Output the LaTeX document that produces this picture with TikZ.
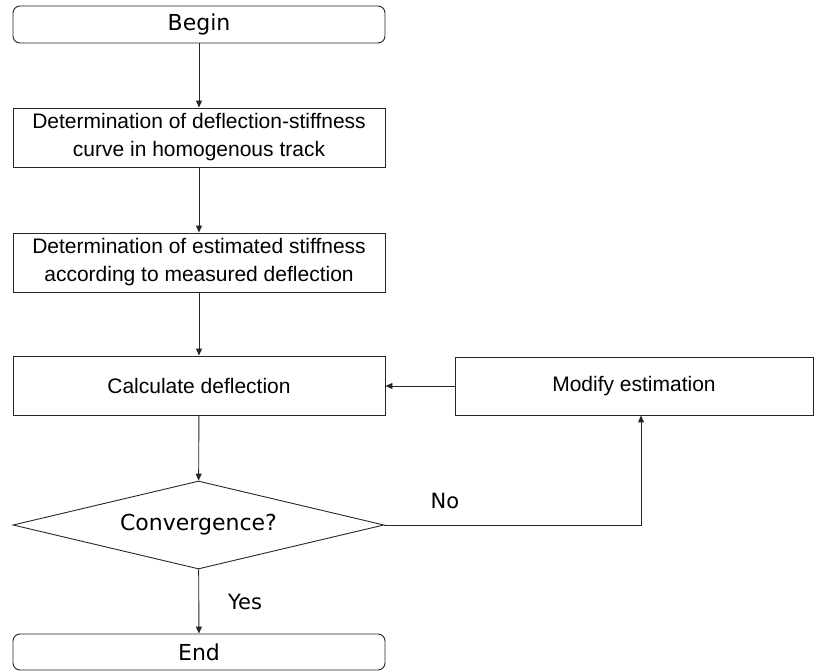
\documentclass[tikz,border=0pt]{standalone}
\usepackage{fontspec}
\setmainfont{Liberation Sans}
\newfontfamily\termfont{DejaVu Sans}
\usepackage{tikz}
\usetikzlibrary{positioning,shapes.geometric,arrows.meta}

\begin{document}
\begin{tikzpicture}[x=1pt, y=-1pt,
  box/.style={rectangle, draw=black!85, line width=0.9pt, minimum width=372pt, minimum height=59pt,
              align=center, font=\fontsize{21}{28}\selectfont, inner sep=0pt},
  term/.style={rectangle, draw=black!85, line width=0.9pt, rounded corners=7pt, minimum width=372pt,
               minimum height=37pt, font=\termfont\fontsize{22}{26}\selectfont, inner sep=0pt},
  decision/.style={diamond, draw=black!85, line width=0.9pt, aspect=4.2, minimum width=371pt,
                   minimum height=88pt, font=\termfont\fontsize{22}{26}\selectfont, inner sep=0pt},
  lbl/.style={font=\termfont\fontsize{21}{25}\selectfont},
  arrow/.style={-{Triangle[length=7pt,width=6pt]}, line width=0.9pt, draw=black!85},
]
\useasboundingbox (0,0) rectangle (815,671);

% Main column
\node[term] (begin) at (199, 24.5) {Begin};
\node[box] (curve) at (199, 137.5) {Determination of deflection-stiffness\\curve in homogenous track};
\node[box] (estim) at (199, 262.5) {Determination of estimated stiffness\\according to measured deflection};
\node[box] (calc) at (199, 385.5) {Calculate deflection};
\node[decision] (conv) at (198.5, 525) {Convergence?};
\node[term, minimum height=36pt] (end) at (199, 652) {End};

% Feedback box
\node[box, minimum width=358pt, minimum height=58pt] (modify) at (634, 386) {Modify estimation};
\coordinate (turn) at (641, 525);

% Arrows
\draw[arrow] (begin) -- (curve);
\draw[arrow] (curve) -- (estim);
\draw[arrow] (estim) -- (calc);
\draw[arrow] (calc) -- (conv);
\draw[arrow] (conv) -- (end);
\draw[arrow] (modify.west) -- (calc.east |- modify.west);
\draw[arrow] (conv.east) -- (turn) -- (turn |- modify.south);

% Labels
\node[lbl] (no) at (445, 501) {No};
\node[lbl] (yes) at (245, 602) {Yes};

\end{tikzpicture}
\end{document}
